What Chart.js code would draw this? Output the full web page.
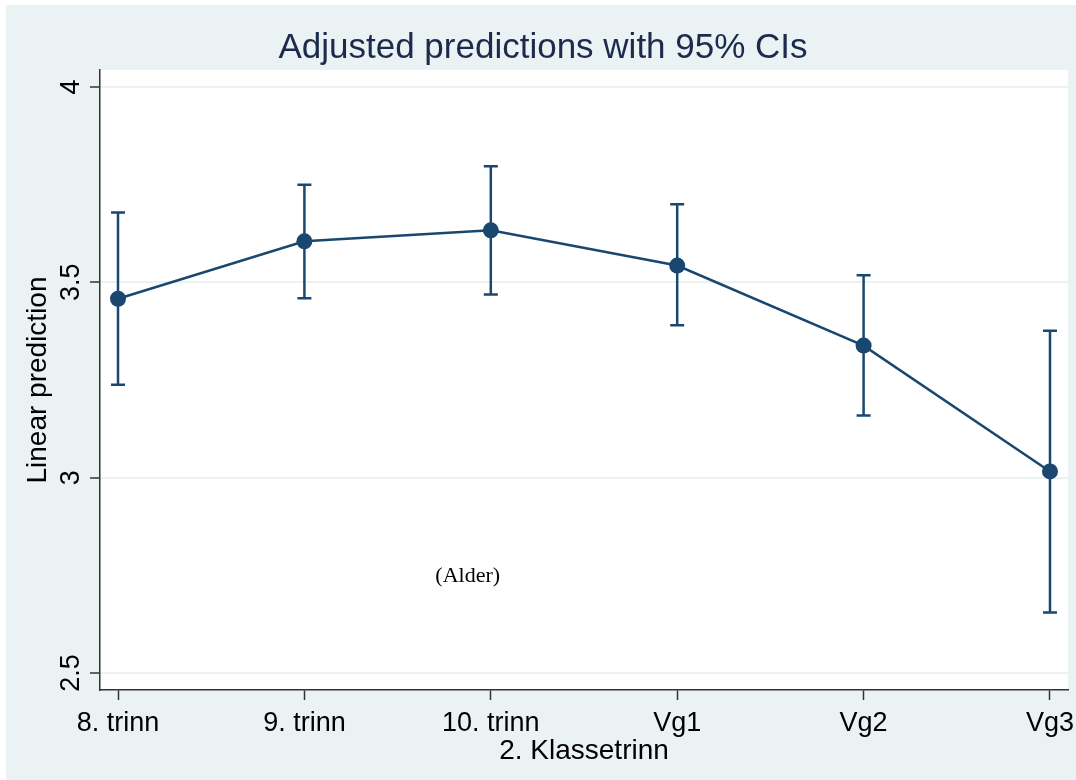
<!DOCTYPE html>
<html>
<head>
<meta charset="utf-8">
<script src="https://cdn.jsdelivr.net/npm/chart.js@4"></script>
<style>
  html, body { margin: 0; padding: 0; background: #fff; }
  canvas { display: block; }
</style>
</head>
<body>
<canvas id="chart" width="1076" height="780"></canvas>
<script>
// data
const categories = ['8. trinn', '9. trinn', '10. trinn', 'Vg1', 'Vg2', 'Vg3'];
const predicted = [3.458, 3.605, 3.633, 3.543, 3.338, 3.016];
const ciLower = [3.238, 3.459, 3.469, 3.390, 3.159, 2.655];
const ciUpper = [3.679, 3.750, 3.797, 3.700, 3.518, 3.376];
const yTicks = [2.5, 3, 3.5, 4];
const titleText = 'Adjusted predictions with 95% CIs';
const note = { text: '(Alder)', x: 1.876, y: 2.734 };

const navy = '#1a476f';
const bluishGray = '#eaf2f3';
const axisColor = '#333333';

const background = {
  id: 'background',
  beforeDraw(chart) {
    const { ctx, width, height, chartArea: a } = chart;
    ctx.save();
    ctx.fillStyle = '#ffffff';
    ctx.fillRect(0, 0, width, height);
    ctx.fillStyle = bluishGray;
    ctx.fillRect(6, 5, width - 6, height - 5);
    ctx.fillStyle = '#ffffff';
    ctx.fillRect(a.left, a.top, a.right - a.left, a.bottom - a.top);
    ctx.restore();
  }
};

const errorBars = {
  id: 'errorBars',
  beforeDatasetsDraw(chart) {
    const { ctx, scales: { x, y } } = chart;
    ctx.save();
    ctx.strokeStyle = navy;
    ctx.lineWidth = 2.5;
    categories.forEach((c, i) => {
      const px = x.getPixelForValue(i);
      const top = y.getPixelForValue(ciUpper[i]);
      const bot = y.getPixelForValue(ciLower[i]);
      ctx.beginPath();
      ctx.moveTo(px, top); ctx.lineTo(px, bot);
      ctx.moveTo(px - 7, top); ctx.lineTo(px + 7, top);
      ctx.moveTo(px - 7, bot); ctx.lineTo(px + 7, bot);
      ctx.stroke();
    });
    ctx.restore();
  }
};

// rotated y tick labels, note and title
const texts = {
  id: 'texts',
  afterDraw(chart) {
    const { ctx, scales: { x, y } } = chart;
    ctx.save();
    ctx.fillStyle = '#000';
    ctx.font = '27px "Liberation Sans", Arial, sans-serif';
    ctx.textAlign = 'center';
    ctx.textBaseline = 'alphabetic';
    yTicks.forEach(v => {
      ctx.save();
      ctx.translate(79, y.getPixelForValue(v));
      ctx.rotate(-Math.PI / 2);
      ctx.fillText(String(v), 0, 0);
      ctx.restore();
    });

    ctx.font = '22px "Liberation Serif", "Times New Roman", serif';
    ctx.fillText(note.text, x.getPixelForValue(note.x), y.getPixelForValue(note.y));

    ctx.fillStyle = '#1c2b4d';
    ctx.font = '35px "Liberation Sans", Arial, sans-serif';
    ctx.textBaseline = 'middle';
    ctx.fillText(titleText, 543, 48);
    ctx.restore();
  }
};

new Chart(document.getElementById('chart'), {
  type: 'line',
  data: {
    datasets: [{
      data: predicted.map((v, i) => ({ x: i, y: v })),
      borderColor: navy,
      backgroundColor: navy,
      borderWidth: 2.5,
      pointRadius: 8,
      pointHoverRadius: 8,
      pointBackgroundColor: navy,
      pointBorderWidth: 0,
      tension: 0,
      clip: false
    }]
  },
  options: {
    responsive: false,
    animation: false,
    events: [],
    layout: { padding: { left: 0, top: 70, right: 8, bottom: 0 } },
    plugins: { legend: { display: false }, tooltip: { enabled: false }, title: { display: false } },
    scales: {
      x: {
        type: 'linear',
        min: -0.0966,
        max: 5.0966,
        afterBuildTicks: s => { s.ticks = categories.map((c, i) => ({ value: i })); },
        afterFit: s => { s.height = 90; s.paddingLeft = 0; s.paddingRight = 0; },
        grid: { drawOnChartArea: false, drawTicks: true, tickLength: 10, tickColor: axisColor, tickWidth: 1.5 },
        border: { color: axisColor, width: 1.5 },
        ticks: {
          color: '#000',
          padding: 7,
          maxRotation: 0,
          autoSkip: false,
          font: { family: '"Liberation Sans", Arial, sans-serif', size: 27 },
          callback: v => categories[v]
        },
        title: {
          display: true,
          text: '2. Klassetrinn',
          color: '#000',
          padding: { top: 0, bottom: 12 },
          font: { family: '"Liberation Sans", Arial, sans-serif', size: 28 }
        }
      },
      y: {
        type: 'linear',
        min: 2.4565,
        max: 4.0435,
        afterBuildTicks: s => { s.ticks = yTicks.map(v => ({ value: v })); },
        afterFit: s => { s.width = 100; s.paddingTop = 0; s.paddingBottom = 0; },
        grid: { color: bluishGray, lineWidth: 2, drawTicks: true, tickLength: 10, tickColor: axisColor, tickWidth: 1.5 },
        border: { color: axisColor, width: 1.5 },
        ticks: { display: false },
        title: {
          display: true,
          text: 'Linear prediction',
          color: '#000',
          padding: { top: 21, bottom: 0 },
          font: { family: '"Liberation Sans", Arial, sans-serif', size: 28 }
        }
      }
    }
  },
  plugins: [background, errorBars, texts]
});
</script>
</body>
</html>
